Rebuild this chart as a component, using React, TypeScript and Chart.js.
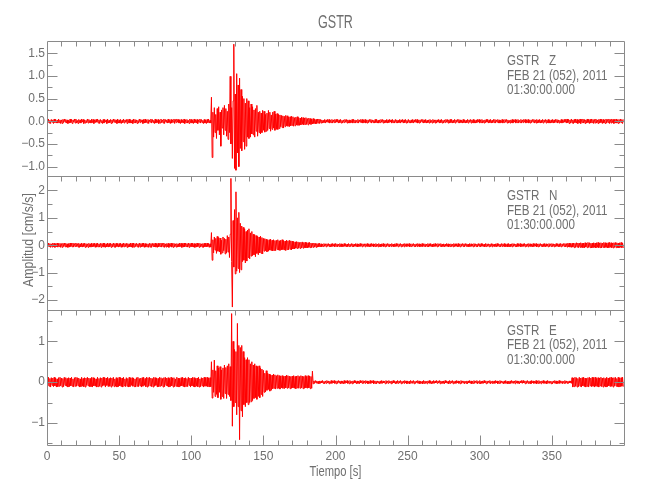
import React, { useEffect, useRef } from 'react';
import { Chart, registerables } from 'chart.js';

Chart.register(...registerables);

// ---- data: one sample every 0.5 s from t = 0 s; values in 0.01 cm/s/s (one row = 10 s) ----
const TIME_START = 0;
const TIME_STEP = 0.5;

const Z_CENTI = [
  4,-3,5,-4,2,-5,4,-2,3,-5,5,-3,4,-4,2,-4,5,-3,3,-5,
  3,-5,4,-3,5,-2,4,-4,3,-5,2,-4,5,-3,4,-5,3,-2,5,-4,
  5,-4,2,-5,4,-3,3,-4,5,-2,4,-5,3,-4,2,-3,5,-4,4,-3,
  2,-4,5,-3,4,-5,3,-3,4,-2,5,-4,3,-5,4,-3,2,-5,4,-4,
  4,-2,3,-5,5,-4,2,-3,4,-5,3,-4,5,-2,4,-3,3,-5,5,-4,
  3,-4,4,-5,2,-3,5,-4,3,-2,4,-5,4,-3,5,-4,2,-4,3,-5,
  5,-3,4,-4,3,-5,2,-4,5,-3,4,-2,3,-5,4,-4,5,-3,2,-4,
  4,-5,3,-2,5,-4,4,-3,2,-5,5,-4,3,-3,4,-5,2,-4,5,-3,
  3,-4,5,-5,4,-2,3,-4,5,-3,2,-5,4,-4,3,-2,5,-5,4,-3,
  5,-2,4,-4,3,-5,4,-3,2,-4,5,-5,3,-3,4,-4,2,-5,5,-3,
  4,-4,2,-5,5,-3,3,-4,4,-5,3,-2,5,-4,4,-3,2,-5,4,-4,
  3,-5,4,-3,5,-4,2,-4,53,-80,20,-35,30,-25,15,-38,28,-20,32,-30,
  20,-55,25,-15,30,-30,35,-20,28,-33,22,-40,38,-25,99,-50,30,-82,45,170,
  -104,60,-108,105,-70,80,-100,95,-60,70,-65,55,-45,50,-62,40,-55,50,-35,45,
  -38,30,-35,38,-28,32,-30,25,-35,28,-22,35,-33,20,-25,22,-28,18,-25,24,
  -20,22,-24,15,-22,18,-20,24,-16,20,-22,14,-18,20,-15,22,-20,16,-18,17,
  -18,15,-16,14,-12,13,-14,12,-15,11,-12,13,-10,12,-11,9,-12,10,-10,11,
  -9,10,-11,8,-10,9,-8,10,-9,8,-9,7,-8,9,-7,8,-8,7,-7,8,
  -7,6,-8,7,-6,6,-7,5,-6,6,-5,5,-6,4,-5,5,-4,5,-5,4,
  -4,3,-4,2,-3,4,-4,3,-2,4,-3,4,-4,2,-3,4,-4,3,-3,4,
  -3,4,-2,4,-4,3,-3,4,-4,2,-4,3,-3,4,-2,4,-4,3,-4,3,
  -4,2,-3,4,-4,4,-3,3,-4,2,-3,4,-4,3,-2,4,-3,4,-4,3,
  -3,4,-4,2,-4,3,-3,4,-2,4,-4,3,-3,2,-4,4,-3,4,-4,2,
  -4,3,-3,4,-2,4,-4,3,-4,2,-3,4,-4,3,-3,4,-2,3,-4,4,
  -3,2,-4,4,-3,3,-4,2,-3,4,-4,3,-2,4,-4,3,-3,4,-4,2,
  -4,4,-3,2,-4,3,-3,4,-4,3,-2,4,-3,4,-4,2,-4,3,-3,4,
  -2,4,-4,3,-3,4,-4,2,-3,3,-4,4,-3,2,-4,4,-3,3,-4,3,
  -4,3,-2,4,-4,3,-3,4,-4,2,-4,3,-3,4,-2,4,-4,3,-4,4,
  -3,4,-4,2,-3,4,-4,3,-2,4,-3,4,-4,3,-3,2,-4,4,-3,3,
  -4,2,-3,4,-4,3,-2,4,-4,3,-3,4,-4,2,-4,3,-3,4,-2,4,
  -4,3,-3,4,-4,2,-4,3,-3,4,-2,4,-4,3,-3,4,-4,2,-3,4,
  -3,4,-4,3,-2,4,-4,3,-4,2,-3,4,-4,3,-3,4,-2,4,-4,3,
  -4,2,-4,3,-3,4,-4,3,-2,4,-4,3,-3,4,-4,2,-3,4,-4,3,
  -3,4,-2,4,-4,3,-3,4,-4,2,-4,3,-3,4,-2,4,-4,3,-4,4,
  -4,3,-3,4,-4,2,-3,4,-4,3,-2,4,-4,3,-3,4,-4,2,-4,3,
  -3,4,-4,3,-3,4,-2,4,-4,3,-4,2,-3,4,-4,3,-3,4,-2,4,
  -4,5,-3,4,-5,3,-4,5,-4,3,-5,4,-3,5,-4,4,-5,3,-4,5,
  -5,4,-3,5,-4,4,-5,3,-4,5,-3,4,-5,4,-4,5,-3,4,-5,4,
  -4,5,-4,3,-5,4,-4,5,-3,4,-5,4,-4,3,-5,5,-4,4,-3,5,
  -5,4,-4,5,-3,4,-5,4,-4,5,-4,3,-5,4,-4,5,-3,4,-5,4,
];

const N_CENTI = [
  7,-6,8,-5,6,-8,5,-7,8,-6,7,-8,5,-6,8,-7,6,-5,7,-8,
  6,-8,7,-5,8,-6,7,-7,5,-8,6,-7,8,-5,7,-6,8,-7,6,-5,
  8,-5,6,-7,7,-8,5,-6,8,-7,6,-5,7,-8,6,-7,5,-8,7,-6,
  5,-7,8,-6,6,-5,7,-8,6,-7,8,-6,5,-7,7,-8,6,-5,8,-7,
  7,-8,5,-6,8,-7,6,-5,7,-8,5,-6,8,-7,6,-8,7,-5,6,-7,
  6,-5,7,-8,5,-7,8,-6,6,-5,7,-8,6,-7,5,-6,8,-7,7,-8,
  8,-7,6,-5,7,-6,5,-8,8,-7,6,-6,7,-5,8,-8,6,-7,5,-6,
  5,-8,7,-7,6,-8,7,-5,6,-6,8,-7,5,-8,7,-6,6,-5,8,-7,
  7,-6,8,-8,5,-7,6,-6,7,-8,5,-5,8,-7,6,-8,7,-6,5,-7,
  6,-7,5,-6,8,-5,7,-8,6,-7,8,-6,7,-5,6,-7,8,-8,6,-5,
  8,-6,7,-7,6,-8,5,-7,8,-5,6,-8,7,-6,5,-7,6,-8,7,-6,
  7,-6,8,-5,6,-8,5,-7,46,-55,20,-28,30,-18,25,-30,32,-22,28,-25,
  26,-33,18,-28,30,-20,25,-32,22,-28,35,-25,30,-45,40,244,-60,-226,90,-80,
  130,-105,195,-95,100,-85,120,-100,80,-90,70,-60,65,-55,60,-65,50,-58,55,-45,
  60,-50,45,-40,50,-38,40,-35,38,-42,35,-30,32,-35,30,-28,33,-30,28,-32,
  25,-22,24,-20,22,-24,18,-22,20,-18,22,-20,18,-21,20,-19,17,-20,18,-16,
  20,-18,16,-19,18,-17,20,-16,17,-18,15,-19,18,-16,16,-17,18,-15,16,-17,
  15,-14,13,-14,12,-11,13,-12,12,-11,10,-12,11,-10,12,-11,10,-9,11,-10,
  9,-10,9,-8,10,-9,8,-9,7,-8,8,-7,7,-8,6,-7,6,-6,7,-6,
  5,-6,4,-5,6,-4,5,-6,5,-4,6,-5,4,-6,5,-5,6,-4,5,-6,
  6,-4,5,-6,4,-5,6,-5,5,-6,4,-5,6,-4,5,-6,4,-5,6,-5,
  4,-5,6,-5,5,-6,4,-4,6,-5,5,-6,4,-5,6,-4,5,-6,5,-4,
  5,-6,5,-4,6,-5,4,-6,5,-5,6,-4,5,-6,4,-5,6,-5,4,-6,
  6,-5,4,-6,5,-4,6,-5,4,-6,5,-5,6,-4,5,-6,4,-5,6,-4,
  4,-6,5,-5,6,-4,5,-6,5,-4,6,-6,4,-5,5,-6,6,-4,5,-5,
  5,-4,6,-6,4,-5,5,-4,6,-5,4,-6,5,-5,6,-4,5,-6,4,-5,
  6,-5,5,-4,5,-6,4,-5,6,-6,5,-4,6,-5,4,-6,5,-5,6,-4,
  4,-6,6,-5,5,-4,6,-6,4,-5,5,-6,4,-4,6,-5,5,-6,4,-5,
  5,-5,4,-6,6,-5,5,-4,5,-6,6,-5,4,-6,5,-4,6,-5,5,-6,
  6,-4,5,-5,4,-6,6,-5,5,-4,4,-6,6,-5,5,-5,4,-6,6,-4,
  5,-6,6,-4,5,-5,4,-6,6,-5,5,-4,5,-6,4,-5,6,-6,5,-4,
  4,-5,5,-6,6,-4,5,-5,4,-6,6,-5,5,-4,6,-6,4,-5,5,-6,
  6,-6,4,-5,5,-6,6,-4,5,-5,4,-6,6,-5,5,-4,6,-6,4,-5,
  5,-4,6,-6,4,-5,5,-6,6,-4,5,-5,4,-6,6,-5,5,-4,6,-6,
  4,-6,5,-5,6,-4,4,-6,5,-5,6,-6,5,-4,4,-6,6,-5,5,-5,
  6,-5,5,-6,4,-5,6,-4,5,-6,5,-5,6,-6,5,-4,6,-5,6,-6,
  6,-7,7,-6,8,-7,6,-8,7,-7,8,-9,7,-8,9,-7,8,-9,8,-8,
  9,-8,7,-9,8,-10,9,-7,8,-9,10,-8,9,-9,7,-10,8,-9,9,-8,
  8,-10,9,-8,10,-9,8,-9,9,-10,8,-8,10,-9,9,-8,8,-10,9,-9,
  10,-8,9,-9,8,-10,9,-8,10,-9,9,-9,8,-10,9,-8,10,-9,8,-10,
];

const E_CENTI = [
  11,-9,12,-10,9,-12,11,-8,10,-11,12,-9,10,-12,8,-11,11,-10,12,-9,
  10,-12,9,-11,12,-8,11,-10,9,-12,11,-11,10,-9,12,-10,8,-12,11,-10,
  12,-10,11,-9,10,-12,8,-11,12,-10,9,-11,11,-12,10,-8,12,-9,10,-11,
  9,-11,12,-12,11,-9,10,-10,8,-12,12,-11,9,-10,11,-12,10,-9,12,-8,
  11,-12,10,-8,12,-11,9,-10,11,-12,10,-9,12,-11,8,-10,11,-12,9,-11,
  12,-9,11,-11,10,-12,12,-9,8,-11,11,-10,9,-12,12,-11,10,-8,11,-10,
  10,-11,8,-12,11,-10,12,-11,9,-9,10,-12,11,-10,12,-8,9,-11,12,-12,
  11,-10,12,-9,10,-11,9,-12,12,-10,11,-8,10,-12,9,-11,12,-10,11,-9,
  9,-12,11,-11,12,-8,10,-10,11,-12,9,-11,12,-9,10,-12,11,-11,8,-10,
  12,-11,10,-12,9,-10,11,-9,12,-11,10,-12,11,-10,9,-11,12,-8,10,-12,
  10,-9,12,-11,11,-12,9,-10,10,-11,12,-12,8,-11,11,-9,10,-12,12,-10,
  11,-10,12,-11,10,-12,11,-11,50,-39,30,-25,54,-35,28,-30,40,-38,35,-25,
  38,-42,30,-35,35,-40,42,-28,36,-40,40,-30,45,-35,38,-45,168,-108,100,-60,
  80,-50,75,-80,144,-60,90,-141,85,-70,90,-85,75,-55,60,-60,55,-50,60,-55,
  55,-50,45,-48,50,-45,42,-40,45,-38,40,-42,38,-35,40,-38,35,-30,32,-35,
  29,-25,22,-24,28,-20,22,-18,20,-22,18,-20,17,-16,20,-15,18,-17,16,-15,
  18,-15,16,-17,15,-14,16,-15,14,-16,15,-14,17,-15,16,-14,15,-16,14,-15,
  15,-14,16,-15,14,-16,15,-14,16,-15,14,-15,16,-14,15,-16,14,-15,16,-14,
  14,-15,16,-14,15,-16,14,-15,27,-4,3,-3,4,-2,3,-3,2,-4,3,-3,
  3,-2,4,-3,2,-4,3,-3,4,-2,3,-4,2,-3,4,-3,3,-2,4,-3,
  2,-4,3,-3,4,-2,3,-4,3,-3,2,-4,4,-3,3,-2,4,-3,2,-4,
  4,-3,2,-4,3,-3,4,-2,3,-4,3,-3,2,-4,4,-2,3,-3,4,-3,
  3,-3,4,-2,3,-4,2,-3,4,-3,3,-2,4,-4,2,-3,3,-4,3,-2,
  2,-4,3,-3,4,-3,3,-2,2,-4,4,-3,3,-3,4,-2,2,-4,3,-3,
  4,-2,3,-4,2,-3,4,-3,3,-2,4,-4,2,-3,3,-3,4,-2,3,-4,
  3,-3,2,-4,4,-2,3,-3,4,-4,2,-3,3,-2,4,-3,3,-4,2,-3,
  2,-4,4,-3,3,-3,2,-4,3,-2,4,-3,3,-4,2,-3,4,-3,3,-2,
  4,-3,3,-2,4,-4,3,-3,2,-3,3,-4,4,-2,3,-3,2,-4,4,-3,
  3,-2,4,-4,2,-3,3,-3,4,-2,3,-3,2,-4,4,-3,3,-2,3,-4,
  2,-3,3,-4,3,-2,4,-3,3,-4,2,-3,4,-3,3,-2,4,-4,2,-3,
  4,-4,2,-3,3,-3,4,-2,2,-4,3,-3,3,-2,4,-4,2,-3,3,-3,
  3,-3,4,-2,3,-4,2,-3,4,-3,3,-2,2,-4,3,-3,4,-3,2,-4,
  2,-4,3,-3,4,-2,3,-3,3,-4,4,-2,3,-3,2,-4,3,-2,4,-3,
  4,-2,2,-4,3,-3,4,-3,2,-3,3,-4,4,-2,3,-3,2,-3,4,-4,
  3,-3,4,-3,2,-4,3,-2,4,-3,2,-3,3,-4,4,-2,3,-3,2,-4,
  2,-4,3,-2,4,-3,3,-4,2,-3,4,-3,3,-2,3,-4,2,-3,4,-3,
  3,-3,2,-3,3,-2,3,-3,11,-12,10,-11,12,-10,11,-12,9,-11,12,-10,
  10,-12,11,-9,12,-11,10,-12,9,-10,11,-12,12,-9,10,-11,12,-10,11,-12,
  12,-10,9,-11,11,-12,10,-9,12,-11,10,-12,11,-10,9,-12,12,-11,10,-9,
  11,-11,12,-10,10,-12,11,-9,12,-10,9,-11,12,-12,10,-11,11,-10,12,-11,
];

// ---- axes ----
const X_MIN = 0;
const X_MAX = 400;
const X_TICKS = [0, 50, 100, 150, 200, 250, 300, 350];
const X_TICK_LABELS = ['0', '50', '100', '150', '200', '250', '300', '350'];

const Z_RANGE = [-1.2, 1.77];
const Z_TICKS = [-1, -0.5, 0, 0.5, 1, 1.5];
const Z_TICK_LABELS = ['\u22121.0', '\u22120.5', '0.0', '0.5', '1.0', '1.5'];

const N_RANGE = [-2.38, 2.54];
const N_TICKS = [-2, -1, 0, 1, 2];
const N_TICK_LABELS = ['\u22122', '\u22121', '0', '1', '2'];

const E_RANGE = [-1.54, 1.76];
const E_TICKS = [-1, 0, 1];
const E_TICK_LABELS = ['\u22121', '0', '1'];

// ---- texts ----
const TITLE = 'GSTR';
const X_TITLE = 'Tiempo [s]';
const Y_TITLE = 'Amplitud [cm/s/s]';
const PANEL_LABELS = ['GSTR   Z', 'GSTR   N', 'GSTR   E'];
const DATE_LABEL = 'FEB 21 (052), 2011';
const TIME_LABEL = '01:30:00.000';

// ---- styles ----
const FONT = "'Liberation Sans', Arial, sans-serif";
const TEXT_COLOR = '#6f6f6f';
const FRAME_COLOR = '#8a8a8a';
const TRACE_COLOR = '#ff0000';

const toPoints = (arr: number[]) =>
  arr.map((c, i) => ({ x: TIME_START + i * TIME_STEP, y: c / 100 }));

// draw text compressed horizontally (narrow plotter-style lettering)
const narrowText = (ctx: any, text: string, x: number, y: number, size: number, squeeze: number, align: string, rotate = 0) => {
  ctx.save();
  ctx.translate(x, y);
  if (rotate) ctx.rotate(rotate);
  ctx.scale(squeeze, 1);
  ctx.font = `${size}px ${FONT}`;
  ctx.textAlign = align;
  ctx.textBaseline = 'middle';
  ctx.fillText(text, 0, 0);
  ctx.restore();
};

const panelPlugin = {
  id: 'panelFrames',
  afterDraw(chart: any) {
    const ctx = chart.ctx;
    const { left, right } = chart.chartArea;
    const xs = chart.scales.x;
    const panels = [
      { id: 'yZ', ticks: Z_TICKS, minor: 0.25 },
      { id: 'yN', ticks: N_TICKS, minor: 0.5 },
      { id: 'yE', ticks: E_TICKS, minor: 0.5 },
    ];
    const L = Math.round(left) + 0.5;
    const R = Math.round(right) + 0.5;
    ctx.save();
    ctx.strokeStyle = FRAME_COLOR;
    ctx.fillStyle = TEXT_COLOR;
    ctx.lineWidth = 1;
    panels.forEach((p, idx) => {
      const s = chart.scales[p.id];
      const top = Math.round(s.top) + 0.5;
      const bottom = Math.round(s.bottom) + 0.5;
      ctx.beginPath();
      ctx.rect(L, top, R - L, bottom - top);
      const start = Math.ceil(s.min / p.minor) * p.minor;
      for (let v = start; v <= s.max + 1e-9; v += p.minor) {
        const y = Math.round(s.getPixelForValue(v)) + 0.5;
        if (y <= top + 1 || y >= bottom - 1) continue;
        const major = p.ticks.some((t) => Math.abs(t - v) < 1e-6);
        const len = major ? 10 : 5;
        ctx.moveTo(L, y); ctx.lineTo(L + len, y);
        ctx.moveTo(R, y); ctx.lineTo(R - len, y);
      }
      for (let t = X_MIN + 10; t < X_MAX; t += 10) {
        const x = Math.round(xs.getPixelForValue(t)) + 0.5;
        ctx.moveTo(x, top); ctx.lineTo(x, top + 5);
      }
      if (idx === panels.length - 1) {
        for (let t = X_MIN + 10; t < X_MAX; t += 10) {
          const x = Math.round(xs.getPixelForValue(t)) + 0.5;
          const len = t % 50 === 0 ? 10 : 5;
          ctx.moveTo(x, bottom); ctx.lineTo(x, bottom - len);
        }
      }
      ctx.stroke();

      const tx = 507;
      narrowText(ctx, PANEL_LABELS[idx], tx, s.top + 20.5, 14, 0.83, 'left');
      narrowText(ctx, DATE_LABEL, tx, s.top + 35, 14, 0.83, 'left');
      narrowText(ctx, TIME_LABEL, tx, s.top + 49.5, 14, 0.83, 'left');
    });

    const cx = (left + right) / 2;
    narrowText(ctx, TITLE, cx, 23, 19, 0.66, 'center');
    narrowText(ctx, X_TITLE, cx, 472, 14, 0.8, 'center');
    narrowText(ctx, Y_TITLE, 29, 240, 14, 0.88, 'center', -Math.PI / 2);
    ctx.restore();
  },
};

const yAxis = (range: number[], ticks: number[], labels: string[]) => ({
  type: 'linear',
  position: 'left',
  stack: 'panels',
  stackWeight: 1,
  min: range[0],
  max: range[1],
  grid: { display: false, drawTicks: false },
  border: { display: false },
  afterBuildTicks: (s: any) => {
    s.ticks = ticks.map((v) => ({ value: v }));
  },
  afterFit: (s: any) => {
    s.width = 47;
  },
  ticks: {
    callback: (_v: any, i: number) => labels[i],
    color: TEXT_COLOR,
    font: { family: FONT, size: 12 },
    padding: 2,
    autoSkip: false,
    maxRotation: 0,
  },
});

export default function App() {
  const canvasRef = useRef<HTMLCanvasElement | null>(null);

  useEffect(() => {
    if (!canvasRef.current) return;
    const dataset = (arr: number[], axis: string) => ({
      data: toPoints(arr),
      yAxisID: axis,
      borderColor: TRACE_COLOR,
      borderWidth: 1,
      pointRadius: 0,
      tension: 0,
      fill: false,
    });
    const chart = new Chart(canvasRef.current, {
      type: 'line',
      data: {
        datasets: [dataset(Z_CENTI, 'yZ'), dataset(N_CENTI, 'yN'), dataset(E_CENTI, 'yE')],
      },
      options: {
        animation: false,
        responsive: false,
        devicePixelRatio: 1,
        normalized: true,
        layout: { padding: { top: 41, right: 26, bottom: 0, left: 0 } },
        plugins: { legend: { display: false }, tooltip: { enabled: false }, title: { display: false } },
        events: [],
        scales: {
          x: {
            type: 'linear',
            position: 'bottom',
            min: X_MIN,
            max: X_MAX,
            grid: { display: false, drawTicks: false },
            border: { display: false },
            afterBuildTicks: (s: any) => {
              s.ticks = X_TICKS.map((v) => ({ value: v }));
            },
            afterFit: (s: any) => {
              s.height = 55;
            },
            ticks: {
              callback: (_v: any, i: number) => X_TICK_LABELS[i],
              color: TEXT_COLOR,
              font: { family: FONT, size: 12 },
              padding: 4,
              autoSkip: false,
              maxRotation: 0,
            },
          },
          yE: yAxis(E_RANGE, E_TICKS, E_TICK_LABELS),
          yN: yAxis(N_RANGE, N_TICKS, N_TICK_LABELS),
          yZ: yAxis(Z_RANGE, Z_TICKS, Z_TICK_LABELS),
        } as any,
      },
      plugins: [panelPlugin],
    } as any);
    return () => chart.destroy();
  }, []);

  return (
    <div style={{ position: 'fixed', left: 0, top: 0, width: 650, height: 500, background: '#fff' }}>
      <canvas ref={canvasRef} width={650} height={500} style={{ display: 'block', width: 650, height: 500 }} />
    </div>
  );
}
